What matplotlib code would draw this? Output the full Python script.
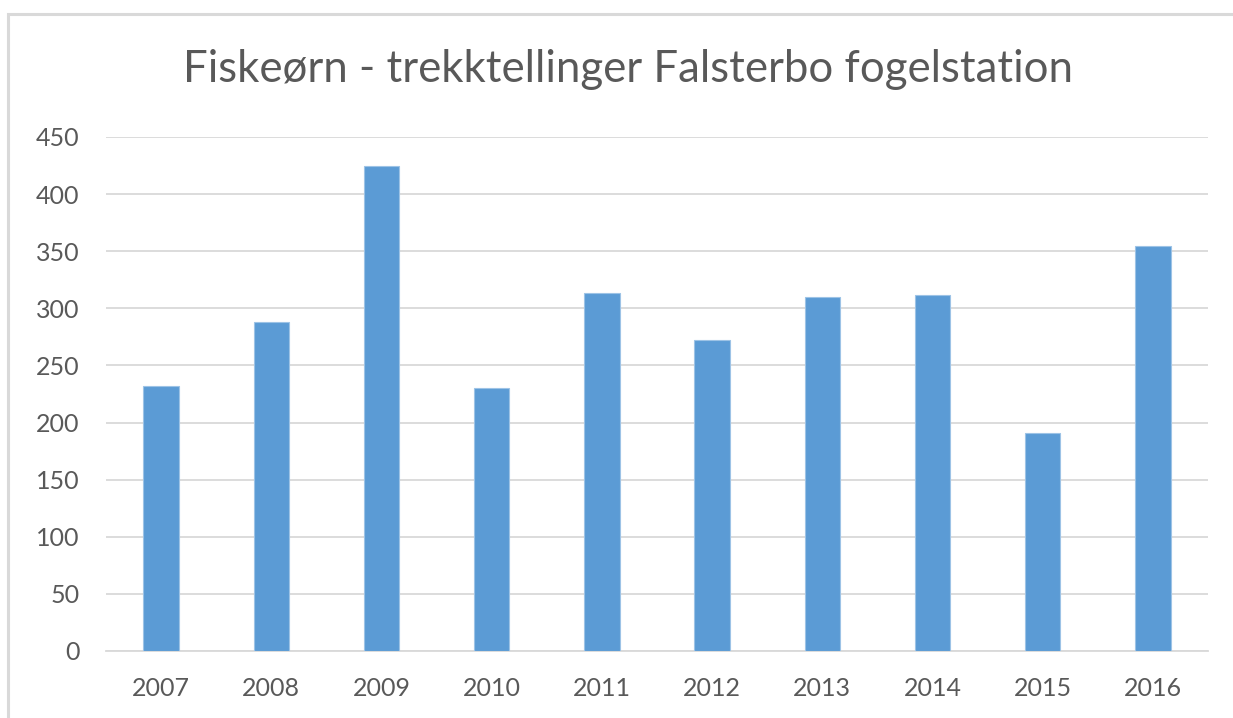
import matplotlib
matplotlib.use("Agg")
import matplotlib.pyplot as plt
from matplotlib.patches import Rectangle

years = ["2007", "2008", "2009", "2010", "2011", "2012", "2013", "2014", "2015", "2016"]
counts = [232, 288, 425, 230, 313, 272, 310, 312, 191, 355]
yticks = [0, 50, 100, 150, 200, 250, 300, 350, 400, 450]
title = "Fiskeørn - trekktellinger Falsterbo fogelstation"

plt.rcParams['font.family'] = ['Lato', 'DejaVu Sans']
W, H = 1233, 718
fig = plt.figure(figsize=(W / 100, H / 100), dpi=100)
fig.patch.set_facecolor("white")

# outer chart border
fig.add_artist(Rectangle((8 / W, -0.05), 1.1, 1 - 14 / H + 0.05, transform=fig.transFigure,
                         fill=False, edgecolor="#D9D9D9", linewidth=2.2))

ax = fig.add_axes([106 / W, 1 - 651 / H, (1208 - 106) / W, (651 - 137) / H])
x = list(range(len(years)))
ax.bar(x, counts, width=0.32, color="#5B9BD5", edgecolor="#9DC3E6", linewidth=0.8, zorder=3)
ax.set_xlim(-0.5, len(years) - 0.5)
ax.set_ylim(0, 450)
ax.set_yticks(yticks)
ax.set_xticks(x)
ax.set_xticklabels(years)
ax.grid(axis="y", color="#D9D9D9", linewidth=1.3, zorder=0)
ax.set_axisbelow(True)
for s in ["top", "right", "left"]:
    ax.spines[s].set_visible(False)
ax.spines["bottom"].set_color("#D9D9D9")
ax.spines["bottom"].set_linewidth(1.3)
ax.tick_params(axis="both", length=0, labelsize=18, colors="#595959")
ax.tick_params(axis="y", pad=19)
ax.tick_params(axis="x", pad=19)

fig.text(628 / W, 1 - 69 / H, title, ha="center", va="center", fontsize=31.5, color="#595959")

fig.savefig("out.png", dpi=100)
